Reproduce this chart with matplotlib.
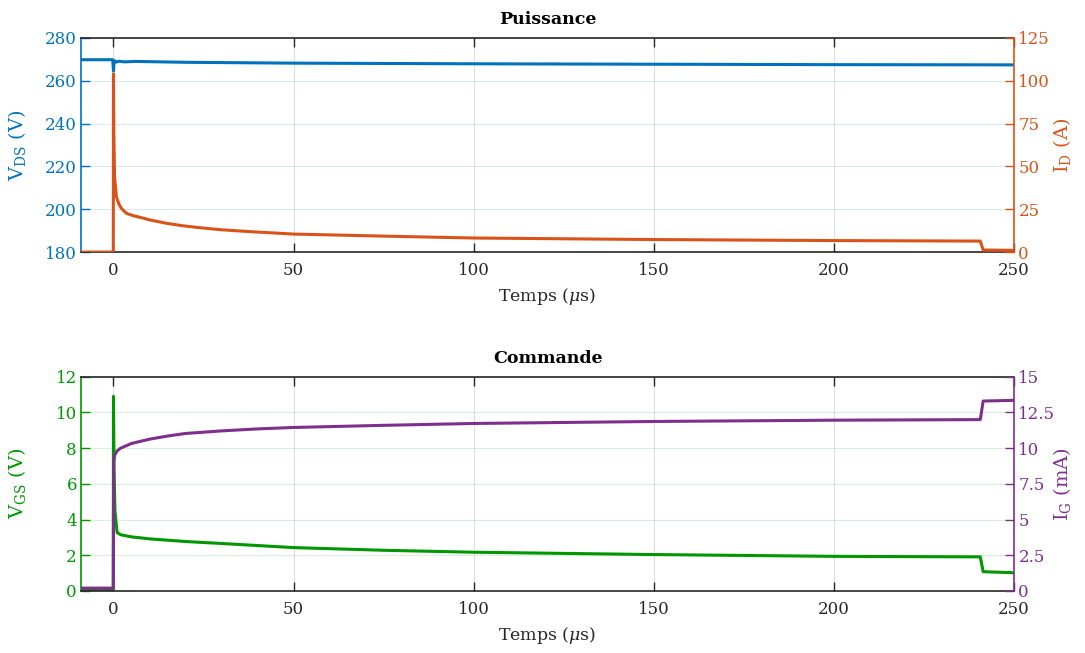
#!/usr/bin/env python3
"""Puissance / commande: transitoire de mise en conduction."""

import matplotlib

matplotlib.use("Agg")
import matplotlib.pyplot as plt

t_vds = [-9, -0.2, 0.0, 0.15, 0.4, 0.8, 1.5, 3, 6, 20, 50, 100, 150, 200, 250]
vds = [269.8, 269.8, 264.5, 268.6, 269.3, 268.7, 269.1, 268.8, 269.0, 268.6,
       268.2, 267.9, 267.7, 267.5, 267.4]

t_id = [-9, -0.05, 0.0, 0.1, 0.3, 0.83, 1.5, 2.2, 3.6, 5.5, 7.3, 10, 14.7, 19,
        24, 30, 38, 50, 75, 100, 150, 200, 240.6, 241.4, 250]
i_d = [0, 0, 104, 70, 44, 32, 28, 25.5, 22.6, 21.2, 20.3, 18.8, 16.8, 15.4,
       14.2, 13.0, 11.9, 10.5, 9.3, 8.2, 7.3, 6.7, 6.4, 1.2, 1.0]

t_vgs = [-9, -0.05, 0.0, 0.15, 0.4, 1, 2, 5, 10, 20, 30, 50, 75, 100, 150, 200,
         240.6, 241.4, 250]
vgs = [0.05, 0.05, 10.9, 7.0, 4.5, 3.27, 3.15, 3.03, 2.92, 2.77, 2.66, 2.43,
       2.28, 2.17, 2.04, 1.94, 1.91, 1.08, 1.02]

t_ig = [-9, -0.05, 0.05, 0.3, 1, 2, 5, 10, 15, 20, 30, 40, 50, 75, 100, 150,
        200, 240.6, 241.4, 250]
i_g = [0.2, 0.2, 9.0, 9.5, 9.81, 10.0, 10.33, 10.63, 10.85, 11.03, 11.21,
       11.35, 11.45, 11.6, 11.73, 11.87, 11.96, 12.0, 13.3, 13.35]

x_ticks = [0, 50, 100, 150, 200, 250]

blue = "#0072BD"
orange = "#D95319"
green = "#009600"
purple = "#7E2F8E"
ink = "#262626"

plt.rcParams["font.family"] = ["DejaVu Serif"]
plt.rcParams["mathtext.fontset"] = "dejavuserif"
plt.rcParams["font.size"] = 12


def panel(fig, rect, title, t1, y1, c1, lab1, lim1, ticks1,
          t2, y2, c2, lab2, lim2, ticks2, ticklabels2=None):
    ax = fig.add_axes(rect)
    ax.plot(t1, y1, color=c1, linewidth=2.2)
    ax.set_xlim(-9, 250)
    ax.set_ylim(*lim1)
    ax.set_xticks(x_ticks)
    ax.set_yticks(ticks1)
    ax.grid(axis="x", color=ink, alpha=0.15, linewidth=0.8)
    ax.grid(axis="y", color=c1, alpha=0.15, linewidth=0.8)
    ax.tick_params(axis="x", direction="in", top=True, length=6.5, width=1.0,
                   colors=ink, labelcolor=ink, pad=7)
    ax.tick_params(axis="y", direction="in", length=6.5, width=1.0,
                   colors=c1, labelcolor=c1, pad=3)
    for side in ("top", "bottom"):
        ax.spines[side].set_color(ink)
        ax.spines[side].set_linewidth(1.2)
    ax.spines["left"].set_color(c1)
    ax.spines["left"].set_linewidth(1.2)
    ax.spines["right"].set_visible(False)
    ax.set_ylabel(lab1, color=c1, fontsize=14)
    ax.yaxis.set_label_coords(-0.057, 0.5)
    ax.set_xlabel(r"Temps ($\mu$s)", color=ink, fontsize=12.5, labelpad=5)
    ax.set_title(title, fontweight="bold", color="black", fontsize=12.5, pad=10)

    ax2 = ax.twinx()
    ax2.plot(t2, y2, color=c2, linewidth=2.2)
    ax2.set_ylim(*lim2)
    ax2.set_yticks(ticks2)
    if ticklabels2 is not None:
        ax2.set_yticklabels(ticklabels2)
    ax2.tick_params(axis="y", direction="in", length=6.5, width=1.0,
                    colors=c2, labelcolor=c2, pad=3)
    for side in ("top", "bottom", "left"):
        ax2.spines[side].set_visible(False)
    ax2.spines["right"].set_color(c2)
    ax2.spines["right"].set_linewidth(1.2)
    ax2.set_ylabel(lab2, color=c2, fontsize=14)
    ax2.yaxis.set_label_coords(1.039, 0.5)
    return ax, ax2


fig = plt.figure(figsize=(10.85, 6.53), dpi=100)

panel(fig, [0.0747, 0.614, 0.860, 0.328], "Puissance",
      t_vds, vds, blue, r"V$_{\rm DS}$ (V)", (180, 280), range(180, 281, 20),
      t_id, i_d, orange, r"I$_{\rm D}$ (A)", (0, 125), range(0, 126, 25))

panel(fig, [0.0747, 0.095, 0.860, 0.328], "Commande",
      t_vgs, vgs, green, r"V$_{\rm GS}$ (V)", (0, 12), range(0, 13, 2),
      t_ig, i_g, purple, r"I$_{\rm G}$ (mA)", (0, 15),
      [0, 2.5, 5, 7.5, 10, 12.5, 15],
      ["0", "2.5", "5", "7.5", "10", "12.5", "15"])

fig.savefig("out.png", dpi=100, facecolor="white")
plt.close(fig)
